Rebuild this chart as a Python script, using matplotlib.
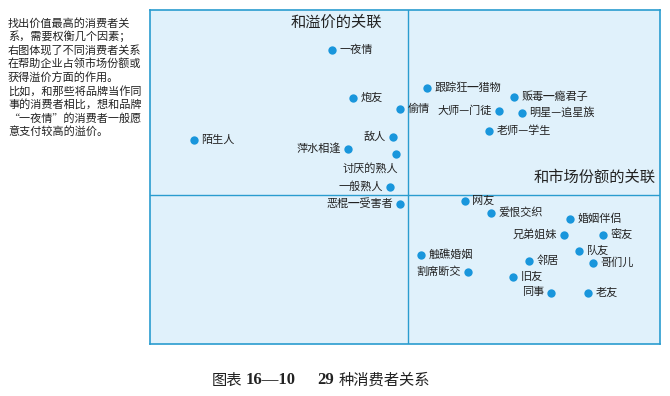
import matplotlib
matplotlib.use("Agg")
import matplotlib.pyplot as plt

plt.rcParams['font.family'] = ['Noto Sans CJK SC', 'DejaVu Sans']

### DATA ###
# x: association with market share, y: association with premium (0 = divider)
names = ["一夜情", "炮友", "偷情", "陌生人", "敌人", "萍水相逢", "讨厌的熟人",
         "一般熟人", "恶棍━受害者", "跟踪狂━猎物", "贩毒━瘾君子", "大师—门徒",
         "明星—追星族", "老师—学生", "网友", "爱恨交织", "婚姻伴侣", "兄弟姐妹",
         "密友", "队友", "触礁婚姻", "邻居", "哥们儿", "割席断交", "旧友",
         "同事", "老友"]
xs = [-76, -55, -8, -214, -15, -60, -12, -18, -8, 19, 106, 91, 114, 81,
      57, 83, 162, 156, 195, 171, 13, 121, 185, 60, 105, 143, 180]
ys = [145, 97, 86, 55, 58, 46, 41, 8, -9, 107, 98, 84, 82, 64,
      -6, -18, -24, -40, -40, -56, -60, -66, -68, -77, -82, -98, -98]
# where the label sits: r = right of dot, l = left, b = below-left
sides = ["r", "r", "r", "r", "l", "l", "b", "l", "l", "r", "r", "l",
         "r", "r", "r", "r", "r", "l", "r", "r", "r", "r", "r", "l",
         "r", "l", "r"]

side_text = ["找出价值最高的消费者关",
             "系，需要权衡几个因素；",
             "右图体现了不同消费者关系",
             "在帮助企业占领市场份额或",
             "获得溢价方面的作用。",
             "比如，和那些将品牌当作同",
             "事的消费者相比，想和品牌",
             "“一夜情”的消费者一般愿",
             "意支付较高的溢价。"]

### FIGURE ###
W, H = 670, 396
fig = plt.figure(figsize=(6.7, 3.96), dpi=100)
ax = fig.add_axes([149.5 / W, (H - 344) / H, (660 - 149.5) / W, (344 - 10) / H])

edge = "#2a9ccf"
ax.set_facecolor("#e0f1fb")
for s in ax.spines.values():
    s.set_color(edge)
    s.set_linewidth(1.2)
ax.set_xlim(-258, 252)
ax.set_ylim(-149.5, 184.5)
ax.set_xticks([])
ax.set_yticks([])
ax.axvline(0, color=edge, lw=1.0)
ax.axhline(0, color=edge, lw=1.0)

ax.scatter(xs, ys, s=36, color="#1996dc", zorder=3, linewidths=0)

for n, x, y, sd in zip(names, xs, ys, sides):
    if sd == "r":
        ax.annotate(n, (x, y), xytext=(5.5, 0), textcoords="offset points",
                    ha="left", va="center", fontsize=8, color="#222222")
    elif sd == "l":
        ax.annotate(n, (x, y), xytext=(-5, 0), textcoords="offset points",
                    ha="right", va="center", fontsize=8, color="#222222")
    else:
        ax.annotate(n, (x, y), xytext=(2, -11), textcoords="offset points",
                    ha="right", va="center", fontsize=8, color="#222222")

ax.text(-71, 172, "和溢价的关联", ha="center", va="center", fontsize=11, color="#222222")
ax.text(248, 17, "和市场份额的关联", ha="right", va="center", fontsize=11, color="#222222")

# left paragraph
for i, line in enumerate(side_text):
    fig.text(8 / W, 1 - (23 + i * 13.6) / H, line, ha="left", va="center",
             fontsize=8, color="#222222")

# caption
cy = 1 - 380 / H
serif = ['Liberation Serif', 'Noto Sans CJK SC']
fig.text(212 / W, cy, "图表", ha="left", va="center", fontsize=11, color="#222222")
fig.text(246 / W, cy, "16—10", ha="left", va="center", fontsize=12,
         family=serif, weight="bold", color="#222222")
fig.text(317 / W, cy, "29", ha="left", va="center", fontsize=12,
         family=serif, weight="bold", color="#222222")
fig.text(339 / W, cy, "种消费者关系", ha="left", va="center", fontsize=11, color="#222222")

fig.savefig("out.png", dpi=100)
